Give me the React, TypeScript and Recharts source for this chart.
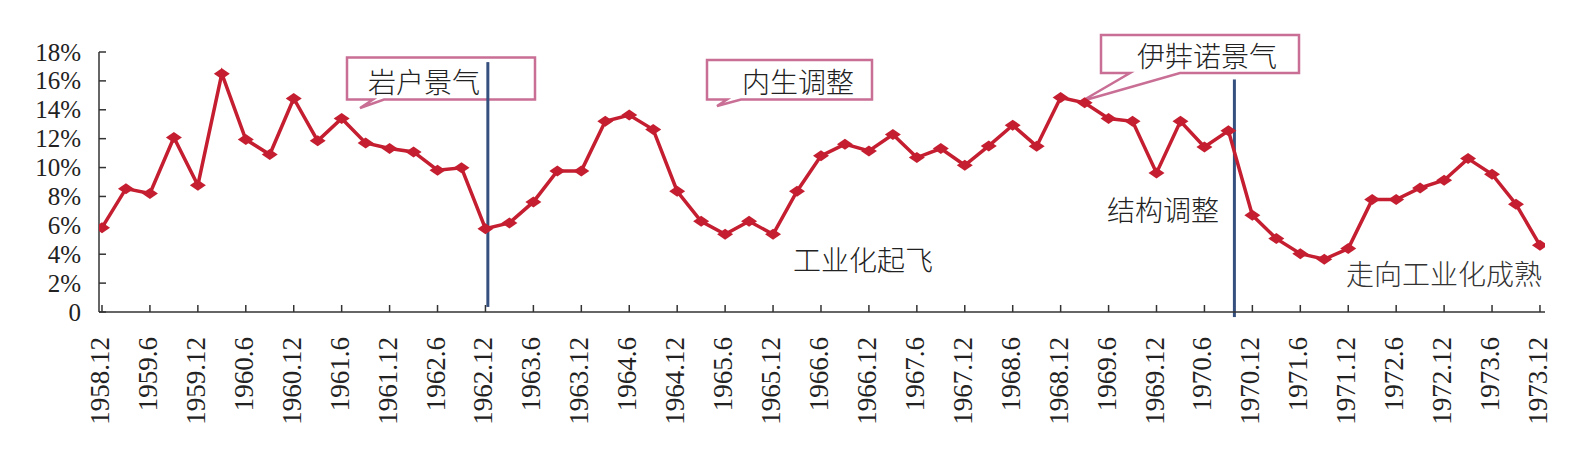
import React from 'react';
import { LineChart, Line, XAxis, YAxis, ReferenceLine } from 'recharts';

// quarterly observations, 1958.12 - 1973.12
const quarters = [
  '1958.12',
  '1959.3', '1959.6', '1959.9', '1959.12',
  '1960.3', '1960.6', '1960.9', '1960.12',
  '1961.3', '1961.6', '1961.9', '1961.12',
  '1962.3', '1962.6', '1962.9', '1962.12',
  '1963.3', '1963.6', '1963.9', '1963.12',
  '1964.3', '1964.6', '1964.9', '1964.12',
  '1965.3', '1965.6', '1965.9', '1965.12',
  '1966.3', '1966.6', '1966.9', '1966.12',
  '1967.3', '1967.6', '1967.9', '1967.12',
  '1968.3', '1968.6', '1968.9', '1968.12',
  '1969.3', '1969.6', '1969.9', '1969.12',
  '1970.3', '1970.6', '1970.9', '1970.12',
  '1971.3', '1971.6', '1971.9', '1971.12',
  '1972.3', '1972.6', '1972.9', '1972.12',
  '1973.3', '1973.6', '1973.9', '1973.12',
];

const growth = [
  5.84,
  8.54, 8.2, 12.08, 8.78,
  16.5, 11.94, 10.9, 14.78,
  11.85, 13.4, 11.7, 11.32,
  11.08, 9.82, 9.98, 5.77,
  6.17, 7.62, 9.77, 9.77,
  13.2, 13.63, 12.63, 8.36,
  6.28, 5.38, 6.28, 5.38,
  8.36, 10.81, 11.62, 11.15,
  12.29, 10.69, 11.32, 10.16,
  11.5, 12.93, 11.48, 14.85,
  14.48, 13.4, 13.2, 9.63,
  13.2, 11.43, 12.54, 6.7,
  5.08, 4.04, 3.65, 4.39,
  7.78, 7.78, 8.59, 9.12,
  10.62, 9.54, 7.46, 4.62,
];

const xTickLabels = [
  '1958.12', '1959.6', '1959.12', '1960.6', '1960.12', '1961.6', '1961.12', '1962.6',
  '1962.12', '1963.6', '1963.12', '1964.6', '1964.12', '1965.6', '1965.12', '1966.6',
  '1966.12', '1967.6', '1967.12', '1968.6', '1968.12', '1969.6', '1969.12', '1970.6',
  '1970.12', '1971.6', '1971.12', '1972.6', '1972.12', '1973.6', '1973.12',
];

const yTicks = [0, 2, 4, 6, 8, 10, 12, 14, 16, 18];

const data = quarters.map((q, i) => ({ i, q, v: growth[i] }));
const xTicks = xTickLabels.map(l => quarters.indexOf(l));

const RED = '#C41E30';
const BLUE = '#35507E';
const PINK = '#C96E95';
const SERIF = 'Liberation Serif';
const CJK = 'Noto Sans CJK SC';

const Diamond = (props: any) => {
  const { cx, cy, index } = props;
  if (cx == null || cy == null) return null;
  return (
    <path
      key={`d-${index}`}
      d={`M${cx - 8},${cy} L${cx},${cy - 5.5} L${cx + 8},${cy} L${cx},${cy + 5.5} Z`}
      fill={RED}
    />
  );
};

const XTick = (props: any) => {
  const { x, y, payload } = props;
  return (
    <text
      transform={`translate(${x - 2},${y}) rotate(-90)`}
      textAnchor="end"
      dominantBaseline="central"
      style={{ fontFamily: SERIF, fontSize: 27 }}
      fill="#222"
    >
      {xTickLabels[xTicks.indexOf(payload.value)]}
    </text>
  );
};

const YTick = (props: any) => {
  const { x, y, payload } = props;
  const v = payload.value as number;
  return (
    <text
      x={x}
      y={y}
      textAnchor="end"
      dominantBaseline="central"
      style={{ fontFamily: SERIF, fontSize: 25 }}
      fill="#222"
    >
      {v === 0 ? '0' : `${v}%`}
    </text>
  );
};

// callout box with a wedge tail on the bottom edge
const callout = (x0: number, y0: number, x1: number, y1: number, b0: number, b1: number, tx: number, ty: number) =>
  `M${x0},${y0} L${x1},${y0} L${x1},${y1} L${b1},${y1} L${tx},${ty} L${b0},${y1} L${x0},${y1} Z`;

const O = 8; // body margin offset

const Notes = () => (
  <svg width={1570} height={446} style={{ position: 'absolute', left: 0, top: 0 }}>
    <path d={callout(347 - O, 57.5 - O, 535 - O, 99.5 - O, 373 - O, 384 - O, 360 - O, 108 - O)} fill="#fff" stroke={PINK} strokeWidth={2.5} />
    <path d={callout(707 - O, 60 - O, 872 - O, 99.5 - O, 727 - O, 741 - O, 717 - O, 106 - O)} fill="#fff" stroke={PINK} strokeWidth={2.5} />
    <path d={callout(1101 - O, 35 - O, 1299 - O, 73 - O, 1130 - O, 1180 - O, 1082 - O, 101 - O)} fill="#fff" stroke={PINK} strokeWidth={2.5} />
    <g style={{ fontFamily: CJK, fontSize: 28, fontWeight: 300 }} fill="#222" dominantBaseline="central">
      <text x={368 - O} y={80.5 - O}>岩户景气</text>
      <text x={742 - O} y={80.5 - O}>内生调整</text>
      <text x={1137 - O} y={55 - O}>伊弉诺景气</text>
      <text x={793 - O} y={259 - O}>工业化起飞</text>
      <text x={1107 - O} y={209 - O}>结构调整</text>
      <text x={1346 - O} y={273 - O} fill="#333">走向工业化成熟</text>
    </g>
  </svg>
);

export default function App() {
  return (
    <div style={{ position: 'relative', width: 1570, height: 446 }}>
      <Notes />
      <div style={{ position: 'absolute', left: 0, top: 0 }}>
        <LineChart width={1570} height={446} data={data} margin={{ top: 44, right: 33, bottom: 0, left: 0 }}>
          <XAxis
            dataKey="i"
            type="number"
            domain={[-0.125, 60.21]}
            allowDataOverflow
            ticks={xTicks}
            interval={0}
            height={142}
            tickSize={-7}
            tickMargin={32}
            tick={<XTick />}
            stroke="#333"
            strokeWidth={1.5}
            tickLine={{ stroke: '#333', strokeWidth: 1.5 }}
          />
          <YAxis
            type="number"
            domain={[0, 18]}
            ticks={yTicks}
            interval={0}
            width={91}
            tickSize={-7}
            tickMargin={25}
            tick={<YTick />}
            stroke="#333"
            strokeWidth={1.5}
            tickLine={{ stroke: '#333', strokeWidth: 1.5 }}
          />
          <ReferenceLine
            segment={[{ x: 16.1, y: 0.35 }, { x: 16.1, y: 17.3 }]}
            stroke={BLUE}
            strokeWidth={3}
            ifOverflow="visible"
          />
          <ReferenceLine
            segment={[{ x: 47.25, y: -0.35 }, { x: 47.25, y: 16.1 }]}
            stroke={BLUE}
            strokeWidth={3}
            ifOverflow="visible"
          />
          <Line
            type="linear"
            dataKey="v"
            stroke={RED}
            strokeWidth={3.5}
            dot={Diamond}
            activeDot={false}
            isAnimationActive={false}
          />
        </LineChart>
      </div>
    </div>
  );
}
